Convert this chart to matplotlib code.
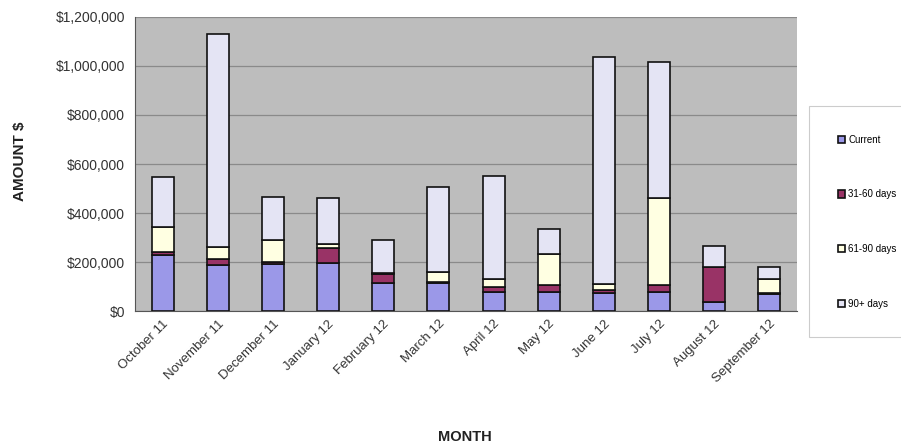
import matplotlib.pyplot as plt
import numpy as np
from matplotlib.ticker import FuncFormatter

plt.rcParams['font.family'] = ['Liberation Sans', 'DejaVu Sans']

# -------------------------------------------------
# Receivables by month (in $)
# -------------------------------------------------
months = ["October 11", "November 11", "December 11", "January 12",
          "February 12", "March 12", "April 12", "May 12", "June 12",
          "July 12", "August 12", "September 12"]

current = [228000, 188000, 193000, 195000, 116000, 115000, 79000, 79000, 72000, 79000, 38000, 69000]
days_31_60 = [12000, 24000, 8000, 62000, 35000, 5000, 20000, 27000, 14000, 27000, 143000, 3000]
days_61_90 = [104000, 48000, 89000, 16000, 5000, 40000, 30000, 127000, 24000, 354000, 0, 57000]
days_90 = [202000, 871000, 174000, 190000, 134000, 345000, 422000, 100000, 925000, 558000, 84000, 49000]

series = [
    ("Current", current, "#9b98e8"),
    ("31-60 days", days_31_60, "#993366"),
    ("61-90 days", days_61_90, "#ffffe2"),
    ("90+ days", days_90, "#e4e4f4"),
]

fig = plt.figure(figsize=(9.01, 4.47), dpi=100)
ax = fig.add_axes([0.1498, 0.3042, 0.7348, 0.6578])
ax.set_facecolor("#bdbdbd")

x = np.arange(len(months))
bottom = np.zeros(len(months))
for name, vals, col in series:
    ax.bar(x, vals, width=0.4, bottom=bottom, color=col, edgecolor="#111111",
           linewidth=1.2, label=name, zorder=3)
    bottom += np.array(vals)

ax.set_ylim(0, 1200000)
ax.set_xlim(-0.5, len(months) - 0.5)
ax.set_yticks(np.arange(0, 1200001, 200000))
ax.yaxis.set_major_formatter(FuncFormatter(lambda v, p: f"${v:,.0f}"))
ax.grid(axis="y", color="#8a8a8a", linewidth=0.9, zorder=0)
ax.set_xticks(x)
ax.set_xticklabels(months, rotation=45, ha="right", rotation_mode="anchor",
                   fontsize=9.5, color="#333333")
ax.tick_params(axis="y", labelsize=10, labelcolor="#333333", length=0, pad=7)
ax.tick_params(axis="x", length=0, pad=5)
for s in ["top", "right"]:
    ax.spines[s].set_visible(False)
ax.spines["left"].set_color("#555555")
ax.spines["bottom"].set_color("#555555")

fig.text(0.022, 0.64, "AMOUNT $", rotation=90, fontsize=11, fontweight="bold",
         ha="center", va="center", color="#222222")
fig.text(0.516, 0.022, "MONTH", fontsize=10.5, fontweight="bold", ha="center",
         va="center", color="#222222")

leg = fig.legend(loc="center", bbox_to_anchor=(0.893, 0.25, 0.115, 0.508),
                 mode="expand", fontsize=7, labelspacing=4.6, handlelength=0.8,
                 handleheight=0.8, borderpad=2.9, handletextpad=0.3,
                 fancybox=False, edgecolor="#cccccc", framealpha=1)
leg.get_frame().set_linewidth(0.8)

plt.savefig("out.png", dpi=100)
